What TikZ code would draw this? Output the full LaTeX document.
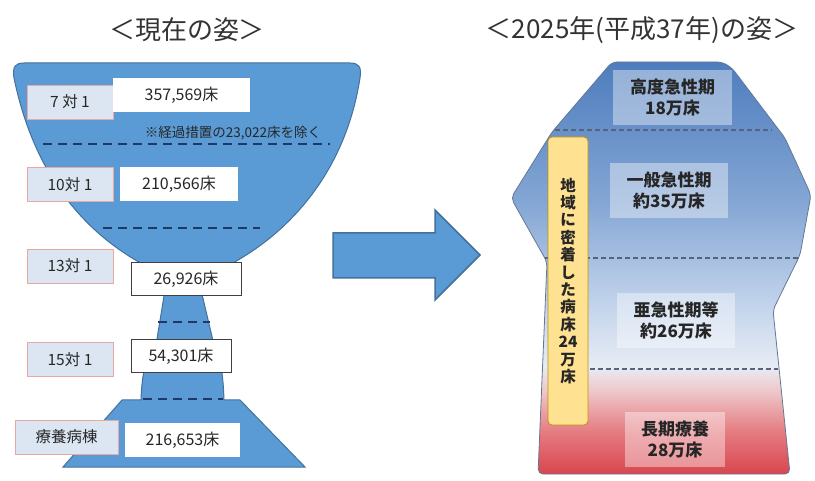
\documentclass[tikz,border=0pt]{standalone}
\usepackage{fontspec}
\setmainfont{Noto Sans CJK JP}
\usetikzlibrary{positioning}

\definecolor{cupfill}{RGB}{91,155,213}
\definecolor{cupline}{RGB}{65,113,156}
\definecolor{navy}{RGB}{31,56,100}
\definecolor{ratefill}{RGB}{220,230,243}
\definecolor{rateline}{RGB}{232,170,160}
\definecolor{txt}{RGB}{38,38,38}
\definecolor{outline}{RGB}{100,120,150}
\definecolor{sepgray}{RGB}{85,100,125}
\definecolor{topblue}{RGB}{78,125,190}
\definecolor{midblue}{RGB}{132,166,212}
\definecolor{paleblue}{RGB}{192,210,235}
\definecolor{whiteish}{RGB}{232,236,244}
\definecolor{pinkish}{RGB}{238,198,200}
\definecolor{redmid}{RGB}{228,122,127}
\definecolor{redbot}{RGB}{217,70,78}
\definecolor{cream}{RGB}{255,226,145}
\definecolor{gold}{RGB}{191,144,0}

\pgfdeclareverticalshading{futureshade}{100bp}{color(0bp)=(redbot); color(25bp)=(redbot); color(30bp)=(redmid); color(35bp)=(pinkish); color(38bp)=(whiteish); color(46bp)=(paleblue); color(58bp)=(midblue); color(75bp)=(topblue); color(100bp)=(topblue)}

\begin{document}
\begin{tikzpicture}[x=1pt,y=-1pt,
  rate/.style={draw=rateline, fill=ratefill, line width=0.8pt, minimum width=86pt, minimum height=34pt, inner sep=0pt, font=\fontsize{15.5}{18}\selectfont, text=txt},
  count/.style={fill=white, minimum height=34pt, inner sep=0pt, font=\fontsize{16}{19}\selectfont, text=txt},
  framed/.style={count, draw=black!75, line width=1pt},
  cut/.style={draw=navy, line width=2.5pt, dash pattern=on 9pt off 6pt},
  sep/.style={draw=sepgray, line width=1.2pt, dash pattern=on 5pt off 3pt},
  ward/.style={fill=white, fill opacity=0.4, text opacity=1, minimum height=55pt, inner sep=0pt, align=center, font=\bfseries\fontsize{17}{21}\selectfont, text=black!85},
  heading/.style={font=\fontsize{26}{30}\selectfont, text=black!80}]
\useasboundingbox (0,0) rectangle (815,481);

% titles
\node[heading] (now) at (187,30) {＜現在の姿＞};
\node[heading] (future) at (642,30) {＜2025年(平成37年)の姿＞};

% current beds: goblet
\path[fill=cupfill, draw=cupline, line width=1pt]
  (24,63) -- (350,63) .. controls (358,63) and (362,66) .. (360,78)
  .. controls (345,175) and (285,240) .. (215,272)
  -- (201,290) -- (214,345) .. controls (220,360) and (223,370) .. (224,400)
  -- (240,400) -- (305,467) -- (63,467) -- (122,400) -- (141,400)
  .. controls (142,370) and (146,360) .. (156,345) -- (165,290) -- (158,272)
  .. controls (90,240) and (35,180) .. (14,78) .. controls (12,66) and (16,63) .. (24,63) -- cycle;
\draw[cut] (43,144) -- (330,144);
\draw[cut] (103,228) -- (260,228);
\draw[cut] (158,322) -- (210,322);
\draw[cut] (143,399) -- (223,399);

\node[rate] (r7) at (70,102) {7 対 1};
\node[count, minimum width=137pt] (c7) at (181.5,95) {357,569床};
\node[font=\fontsize{13.5}{16}\selectfont, text=txt, inner sep=0pt] (note) at (233,133) {※経過措置の23,022床を除く};
\node[rate] (r10) at (70,184.5) {10対 1};
\node[count, minimum width=118pt] (c10) at (179,184) {210,566床};
\node[rate] (r13) at (70,266) {13対 1};
\node[framed, minimum width=110pt, minimum height=33pt] (c13) at (186,279.5) {26,926床};
\node[rate] (r15) at (70,359.5) {15対 1};
\node[framed, minimum width=100pt, minimum height=33pt] (c15) at (181,356.5) {54,301床};
\node[rate, minimum width=103pt] (rL) at (66.5,437) {療養病棟};
\node[count, minimum width=115pt] (cL) at (182.5,440) {216,653床};

% arrow
\path[fill=cupfill, draw=cupline, line width=1.5pt]
  (333,233) -- (435,233) -- (435,210) -- (480,255) -- (435,300) -- (435,278) -- (333,278) -- cycle;

% 2025 beds
\shadedraw[shading=futureshade, draw=outline, line width=0.8pt, rounded corners=5pt]
  (612,62) -- (722,62) -- (732,68) -- (785,138) -- (811,195) -- (800,255) -- (773,310)
  -- (790,474) -- (538,474) -- (547,262) -- (511,198) -- (552,132) -- cycle;
\draw[sep] (555,130) -- (772,130);
\draw[sep] (545,258) -- (798,258);
\draw[sep] (590,369) -- (778,369);

\node[ward, minimum width=119pt] (high) at (672.5,97.5) {高度急性期\\18万床};
\node[ward, minimum width=118pt] (acute) at (669,190.5) {一般急性期\\約35万床};
\node[ward, minimum width=118pt] (sub) at (676,320.5) {亜急性期等\\約26万床};
\node[ward, minimum width=100pt] (long) at (675,439.5) {長期療養\\28万床};

\node[draw=gold, fill=cream, line width=0.8pt, rounded corners=4pt, minimum width=40pt, minimum height=288pt, inner sep=0pt, align=center, text=black!85, font=\bfseries\fontsize{15.5}{17.4}\selectfont] (local) at (568,281) {地\\域\\に\\密\\着\\し\\た\\病\\床\\24\\万\\床};
\end{tikzpicture}
\end{document}
